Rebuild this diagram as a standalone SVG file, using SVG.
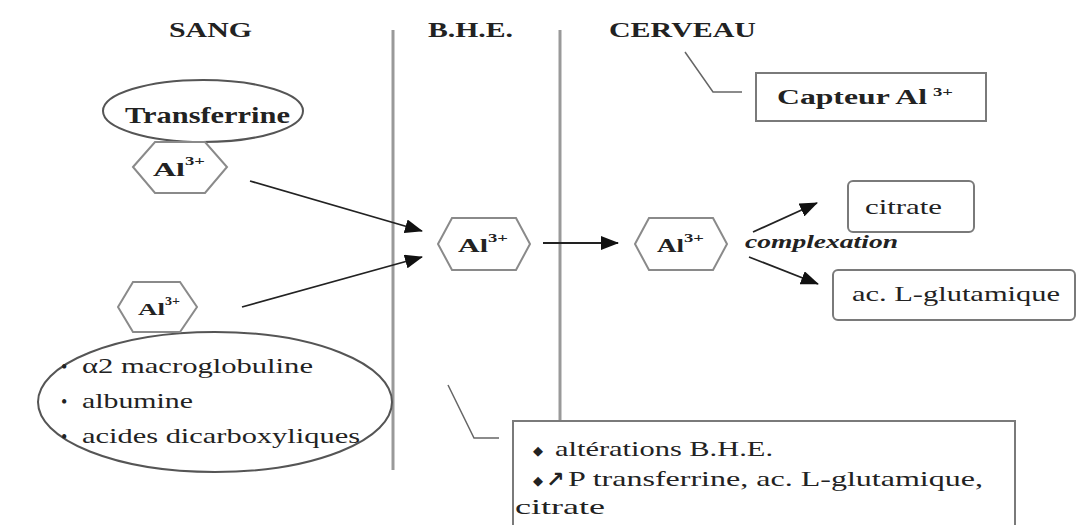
<svg xmlns="http://www.w3.org/2000/svg" width="1078" height="525" viewBox="0 0 1078 525">
<defs>
<marker id="arr" viewBox="0 0 18 14" refX="17" refY="7" markerWidth="18" markerHeight="14" markerUnits="userSpaceOnUse" orient="auto">
<path d="M0,0 L18,7 L0,14 Z" fill="#111"/>
</marker>
<style>
text{fill:#222}
.hd{font-size:22px;font-weight:bold}
.b{font-weight:bold}
.hex{fill:#fff;stroke:#8a8a8a;stroke-width:2}
.ell{fill:#fff;stroke:#555;stroke-width:2}
.box{fill:#fff;stroke:#7a7a7a;stroke-width:2}
.vl{stroke:#999;stroke-width:3;fill:none}
.cl{stroke:#666;stroke-width:1.5;fill:none}
.ar{stroke:#222;stroke-width:1.8;fill:none;marker-end:url(#arr)}
.r{font-size:21px}
</style>
</defs>
<rect width="1078" height="525" fill="#fff"/>
<g font-family="'Liberation Serif', 'Times New Roman', Tinos, serif">
<g id="headers">
<text class="hd" x="169" y="37" textLength="83" lengthAdjust="spacingAndGlyphs">SANG</text>
<text class="hd" x="428" y="37" textLength="85" lengthAdjust="spacingAndGlyphs">B.H.E.</text>
<text class="hd" x="609" y="37" textLength="147" lengthAdjust="spacingAndGlyphs">CERVEAU</text>
</g>
<g id="barriers">
<line class="vl" x1="393" y1="30" x2="393" y2="470"/>
<line class="vl" x1="560" y1="30" x2="560" y2="421"/>
</g>
<g id="connectors">
<line class="ar" x1="250" y1="181" x2="422" y2="231"/>
<line class="ar" x1="242" y1="307" x2="422" y2="257"/>
<line class="ar" x1="543" y1="243" x2="618" y2="243"/>
<line class="ar" x1="753" y1="232" x2="817" y2="203"/>
<line class="ar" x1="749" y1="257" x2="818" y2="284"/>
<polyline class="cl" points="685,52 713,92 742,92"/>
<polyline class="cl" points="448,385 474,438 499,438"/>
</g>
<g id="transferrine">
<ellipse class="ell" cx="203" cy="111" rx="100" ry="31"/>
<text class="b" x="125" y="123" font-size="23" textLength="165" lengthAdjust="spacingAndGlyphs">Transferrine</text>
</g>
<g id="al-transferrine">
<polygon class="hex" points="133,167 155,142 205,142 227,167 205,193 155,193"/>
<text class="b"><tspan x="153" y="176" font-size="19" textLength="32" lengthAdjust="spacingAndGlyphs">Al</tspan><tspan x="185" y="165" font-size="13" textLength="20" lengthAdjust="spacingAndGlyphs">3+</tspan></text>
</g>
<g id="macroglobuline">
<ellipse class="ell" cx="215" cy="402" rx="177" ry="70"/>
<text class="r"><tspan x="61" y="373" font-size="18">•</tspan><tspan x="82" y="373" textLength="231" lengthAdjust="spacingAndGlyphs">α2 macroglobuline</tspan></text>
<text class="r"><tspan x="61" y="408" font-size="18">•</tspan><tspan x="82" y="408" textLength="111" lengthAdjust="spacingAndGlyphs">albumine</tspan></text>
<text class="r"><tspan x="61" y="443" font-size="18">•</tspan><tspan x="82" y="443" textLength="278" lengthAdjust="spacingAndGlyphs">acides dicarboxyliques</tspan></text>
</g>
<g id="al-libre">
<polygon class="hex" points="118,307 133,282 180,282 197,307 180,332 133,332"/>
<text class="b"><tspan x="138" y="315" font-size="17" textLength="27" lengthAdjust="spacingAndGlyphs">Al</tspan><tspan x="165" y="305" font-size="12" textLength="15" lengthAdjust="spacingAndGlyphs">3+</tspan></text>
</g>
<g id="al-bhe">
<polygon class="hex" points="438,244 452,218 516,218 530,244 516,270 452,270"/>
<text class="b"><tspan x="458" y="252" font-size="18" textLength="30" lengthAdjust="spacingAndGlyphs">Al</tspan><tspan x="488" y="242" font-size="12" textLength="20" lengthAdjust="spacingAndGlyphs">3+</tspan></text>
</g>
<g id="al-cerveau">
<polygon class="hex" points="635,244 649,218 713,218 727,244 713,270 649,270"/>
<text class="b"><tspan x="657" y="252" font-size="18" textLength="27" lengthAdjust="spacingAndGlyphs">Al</tspan><tspan x="684" y="242" font-size="12" textLength="20" lengthAdjust="spacingAndGlyphs">3+</tspan></text>
</g>
<g id="complexation">
<text x="745" y="248" font-size="19" font-weight="bold" font-style="italic" textLength="153" lengthAdjust="spacingAndGlyphs">complexation</text>
</g>
<g id="capteur">
<rect class="box" x="756" y="73" width="230" height="48"/>
<text class="b"><tspan x="777" y="104" font-size="20" textLength="150" lengthAdjust="spacingAndGlyphs">Capteur Al</tspan><tspan x="933" y="96" font-size="13" textLength="20" lengthAdjust="spacingAndGlyphs">3+</tspan></text>
</g>
<g id="citrate">
<rect class="box" x="848" y="181" width="126" height="51" rx="5"/>
<text class="r" x="865" y="214" textLength="77" lengthAdjust="spacingAndGlyphs">citrate</text>
</g>
<g id="glutamique">
<rect class="box" x="833" y="270" width="242" height="50" rx="5"/>
<text class="r" x="852" y="301" textLength="208" lengthAdjust="spacingAndGlyphs">ac. L-glutamique</text>
</g>
<g id="alterations">
<rect class="box" x="513" y="421" width="502" height="115"/>
<text class="r"><tspan x="533" y="455" font-size="13">◆</tspan><tspan x="555" y="456" textLength="218" lengthAdjust="spacingAndGlyphs">altérations B.H.E.</tspan></text>
<text class="r"><tspan x="533" y="485" font-size="13">◆</tspan><tspan x="546" y="487" font-size="22" font-weight="bold" font-family="'DejaVu Sans', sans-serif">↗</tspan><tspan x="568" y="486" textLength="415" lengthAdjust="spacingAndGlyphs">P transferrine, ac. L-glutamique,</tspan></text>
<text class="r" x="515" y="514" textLength="90" lengthAdjust="spacingAndGlyphs">citrate</text>
</g>
</g>
</svg>
